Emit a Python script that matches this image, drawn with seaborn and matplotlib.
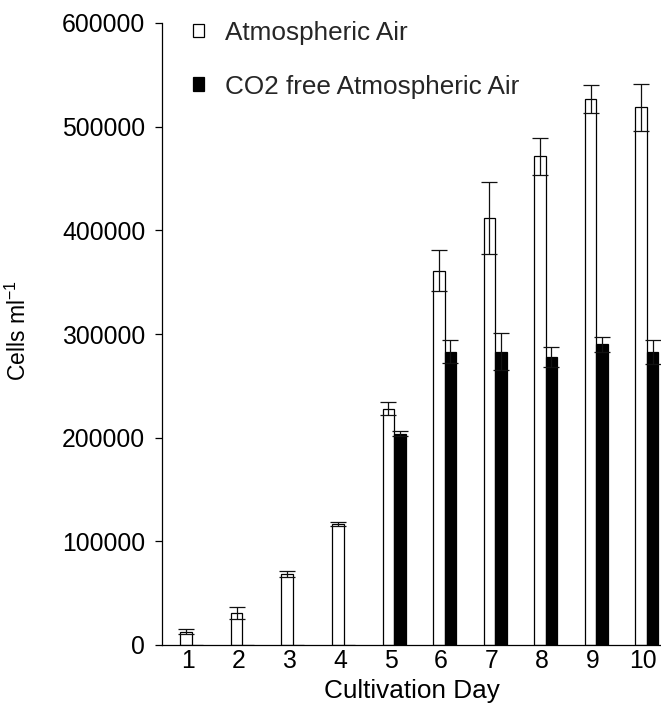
import matplotlib
matplotlib.use("Agg")
import matplotlib.pyplot as plt
from matplotlib.patches import Patch
import seaborn as sns
import pandas as pd
import numpy as np

# ---- data ----
days = ["1", "2", "3", "4", "5", "6", "7", "8", "9", "10"]
series_names = ["Atmospheric Air", "CO2 free Atmospheric Air"]
atm_values = [13000, 31000, 68500, 116500, 228000, 361000, 412000, 471500, 527000, 518500]
atm_errors = [2000, 5700, 2500, 1700, 6000, 20000, 35000, 18000, 13500, 23000]
co2_values = [0, 0, 0, 0, 204000, 283000, 283000, 278000, 290000, 283000]
co2_errors = [0, 0, 0, 0, 2500, 11000, 18000, 9500, 7500, 11500]
y_ticks = [0, 100000, 200000, 300000, 400000, 500000, 600000]

df = pd.DataFrame({
    "day": days * 2,
    "condition": [series_names[0]] * len(days) + [series_names[1]] * len(days),
    "value": atm_values + co2_values,
})
errors = {series_names[0]: atm_errors, series_names[1]: co2_errors}

sns.set_theme(style="white")
plt.rcParams["font.family"] = ["Liberation Sans", "DejaVu Sans"]
plt.rcParams["mathtext.default"] = "regular"

fig = plt.figure(figsize=(6.61, 7.16), dpi=100)
ax = fig.add_axes([162 / 661, 71 / 716, 1 - 162 / 661, (645 - 23) / 716])

sns.barplot(data=df, x="day", y="value", hue="condition", order=days,
            hue_order=series_names,
            palette={series_names[0]: "white", series_names[1]: "black"},
            edgecolor="black", linewidth=0.9, width=0.455, gap=0,
            errorbar=None, legend=False, ax=ax)

for cont, name in zip(ax.containers, series_names):
    xs, ys, es = [], [], []
    for bar, err in zip(cont.patches, errors[name]):
        if err > 0:
            xs.append(bar.get_x() + bar.get_width() / 2)
            ys.append(bar.get_height())
            es.append(err)
    ax.errorbar(xs, ys, yerr=es, fmt="none", ecolor="#111111",
                elinewidth=0.9, capsize=5.5, capthick=0.9, zorder=5)

ax.set_ylim(0, 600000)
ax.set_yticks(y_ticks)
ax.set_yticklabels([str(t) for t in y_ticks])
ax.set_xlim(-0.59, 9.28)
ax.set_xticks(np.arange(len(days)) - 0.07)
ax.set_xticklabels(days)

for s in ["top", "right"]:
    ax.spines[s].set_visible(False)
for s in ["left", "bottom"]:
    ax.spines[s].set_color("black")
    ax.spines[s].set_linewidth(0.9)

ax.tick_params(axis="y", which="both", left=True, length=5, width=0.9,
               color="black", pad=7, labelsize=17.8, labelcolor="black")
ax.tick_params(axis="x", which="both", bottom=False, length=0, pad=3,
               labelsize=17.8, labelcolor="black")

ax.set_xlabel("Cultivation Day", fontsize=18.8, color="black", labelpad=4)
ax.set_ylabel("Cells ml$^{-1}$", fontsize=16.5, color="black")
ax.yaxis.set_label_coords(-0.2625, 0.505)

handles = [Patch(facecolor="white", edgecolor="black", linewidth=0.9),
           Patch(facecolor="black", edgecolor="black", linewidth=0.9)]
fig.legend(handles, series_names, loc="upper left",
           bbox_to_anchor=(192.7 / 661, 1 - 21 / 716),
           frameon=False, fontsize=18.8, borderpad=0, borderaxespad=0,
           handlelength=0.42, handleheight=0.42, handletextpad=0.8,
           labelspacing=1.13)

fig.savefig("out.png", dpi=100)
